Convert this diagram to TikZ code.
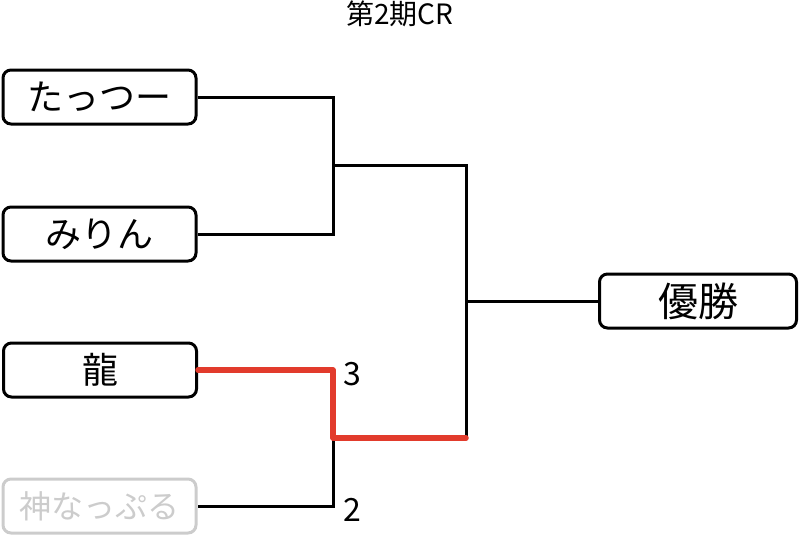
\documentclass[tikz,border=0pt]{standalone}
\usepackage{fontspec}
\setmainfont{Noto Sans CJK JP}
\newfontfamily\jp{Noto Sans CJK JP}
\definecolor{winred}{HTML}{E23B2C}
\definecolor{lose}{HTML}{CCCCCC}
\begin{document}
\begin{tikzpicture}[x=1pt,y=-1pt,
  player/.style={draw=black,line width=3pt,rounded corners=8pt,minimum width=193pt,minimum height=54pt,inner sep=0pt,font=\jp\fontsize{36}{40}\selectfont},
  link/.style={line width=3pt,black},
  winlink/.style={line width=5.5pt,winred,line cap=round,line join=round},
  score/.style={font=\jp\fontsize{32}{34}\selectfont,anchor=west,inner sep=0pt}]
\useasboundingbox (0,0) rectangle (799,550);
\node[font=\jp\fontsize{28}{30}\selectfont] (title) at (400,14) {第2期CR};
\node[player] (b1) at (99.5,97) {たっつー};
\node[player] (b2) at (99.5,234) {みりん};
\node[player] (b3) at (100,370) {龍};
\node[player,draw=lose,text=lose,font=\jp\fontsize{32}{36}\selectfont] (b4) at (99.5,506) {神なっぷる};
\node[player,minimum width=197pt,font=\jp\fontsize{40}{44}\selectfont] (win) at (698,301) {優勝};
\coordinate (m1) at (333,165);
\coordinate (m2) at (333,438);
\coordinate (t1) at (466,165);
\coordinate (t2) at (466,438);
\coordinate (f) at (466,301);
\draw[link] (b1.east) -| (m1) |- (b2.east);
\draw[link] (m1) -- (t1) -- (t2);
\draw[link] (f) -- (win.west);
\draw[link] (m2) |- (b4.east);
\draw[winlink] (b3.east) -| (m2) -- (t2);
\node[score] (s3) at (343,374) {3};
\node[score] (s2) at (343,510) {2};
\end{tikzpicture}
\end{document}
